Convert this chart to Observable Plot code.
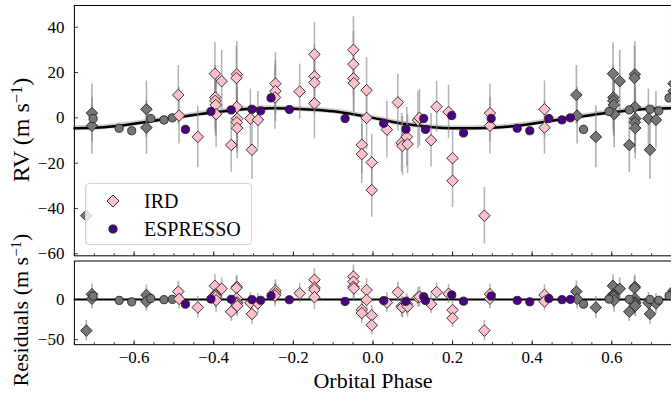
<!DOCTYPE html>
<html><head><meta charset="utf-8">
<script src="https://cdn.jsdelivr.net/npm/d3@7"></script>
<script src="https://cdn.jsdelivr.net/npm/@observablehq/plot@0.6"></script>
<style>
body{margin:0;background:#fff;}
#wrap{position:relative;width:671px;height:394px;overflow:hidden;background:#fff;font-family:"Liberation Serif",serif;color:#000;}
#top,#bot{position:absolute;left:0;}
#top{top:0px;} #bot{top:258px;}
.ylab{position:absolute;white-space:nowrap;transform:translate(-50%,-50%) rotate(-90deg);font-size:24px;line-height:1;}
.xlab{position:absolute;white-space:nowrap;transform:translate(-50%,-50%);font-size:22px;line-height:1;}
sup{font-size:0.68em;vertical-align:0.45em;line-height:0;}
#legend{position:absolute;left:85px;top:183px;width:167px;height:62px;box-sizing:border-box;border:1px solid #d4d4d4;border-radius:4px;background:rgba(255,255,255,0.8);}
.lrow{position:absolute;left:0;height:20px;display:flex;align-items:center;font-size:20px;}
.lrow svg{margin-left:20px;margin-right:24px;}
</style></head><body>
<div id="wrap">
  <div id="top"></div>
  <div id="bot"></div>
  <div class="ylab" style="left:21px;top:130px;">RV (m s<sup>−1</sup>)</div>
  <div class="ylab" style="left:21px;top:310px;font-size:22px;">Residuals (m s<sup>−1</sup>)</div>
  <div class="xlab" style="left:373px;top:381px;">Orbital Phase</div>
  <div id="legend"></div>
</div>
<script>
// ---- data ----
const irdPhase = [-0.489,-0.487,-0.440,-0.397,-0.380,-0.396,-0.396,-0.395,-0.394,-0.342,-0.343,-0.342,-0.341,-0.342,-0.341,-0.356,-0.304,-0.308,-0.289,-0.245,-0.245,-0.246,-0.184,-0.147,-0.147,-0.147,-0.147,-0.049,-0.049,-0.049,-0.048,-0.016,-0.016,-0.028,-0.028,-0.003,-0.003,0.035,0.0625,0.072,0.074,0.085,0.087,0.113,0.117,0.146,0.160,0.190,0.200,0.200,0.280,0.294,0.294,0.431,0.431];
const irdRV    = [10.1,1.0,-8.4,19.5,16.2,9.0,7.5,5.7,1.6,19.2,17.6,4.8,-0.3,-2.0,-4.5,-12.0,-14.1,-0.3,-0.9,15.1,11.8,9.0,11.6,28.0,18.3,15.6,6.4,30.0,23.7,17.4,15.3,12.2,0.0,-11.9,-16.0,-19.7,-31.9,-5.2,6.8,-11.0,-12.4,-8.4,-11.6,-1.0,0.0,-9.9,4.9,2.6,-17.8,-27.8,-43.2,2.1,-3.5,3.8,-4.3];
const irdErr   = [13,12.5,13.6,13.7,13.5,14,14,14,14.8,14.4,14,13.5,13.5,13.5,13.5,12,13,13,12.5,13.7,13.5,14,12.1,14,14,14,15.7,14.6,14.5,14.5,14.7,14.4,14,13,13,12.5,12,12.5,12.5,13,13,13,13,12.5,12.5,11.8,11.2,11.8,12,11.8,12.5,12.8,12.5,12.5,11.8];

const espPhase = [-0.471,-0.407,-0.356,-0.304,-0.282,-0.256,-0.210,-0.070,0.027,0.083,0.1275,0.132,0.198,0.2275,0.297,0.3625,0.394,0.442,0.475,0.496];
const espRV    = [-5.1,2.8,3.5,3.8,3.1,8.8,3.7,-0.3,-2.4,-5.0,-0.3,-5.1,1.0,-6.7,-0.3,-4.6,-5.7,-0.3,-0.9,0.0];
const espErr   = [2,2,1.5,1.5,1.5,2,1.5,1.5,1.5,1.5,2,1.5,2,1.5,2,1.5,1.5,1.5,1.5,1.5];

const modelPhase = [-0.75,-0.7,-0.65,-0.6,-0.55,-0.5,-0.45,-0.4,-0.35,-0.3,-0.25,-0.2,-0.15,-0.1,-0.05,0,0.05,0.1,0.15,0.2,0.25,0.3,0.35,0.4,0.45,0.5,0.55,0.6,0.65,0.7,0.75];
const modelRV    = [-4.6,-4.4,-3.7,-2.6,-1.3,0.0,1.3,2.5,3.4,4.0,4.2,4.0,3.6,2.9,1.6,0.0,-1.8,-3.2,-4.1,-4.6,-4.6,-4.4,-3.7,-2.6,-1.3,0.0,1.3,2.5,3.4,4.0,4.2];
const modelBand  = 1.1;

const instruments = ["IRD","ESPRESSO"];
const xTickLabels = [-0.6,-0.4,-0.2,0,0.2,0.4,0.6];
const rvTicks = [-60,-40,-20,0,20,40];
const resTicks = [-50,0];

// ---- derived tables ----
const modelAt = d3.scaleLinear(modelPhase, modelRV);
const model = modelPhase.map((p,i)=>({phase:p, rv:modelRV[i]}));
const ird = irdPhase.map((p,i)=>({phase:p, rv:irdRV[i], err:irdErr[i]}));
const esp = espPhase.map((p,i)=>({phase:p, rv:espRV[i], err:espErr[i]}));
for (const d of [...ird, ...esp]) d.res = d.rv - modelAt(d.phase);
const wrap = arr => arr.flatMap(d => [{...d, phase:d.phase+1}, {...d, phase:d.phase-1}])
  .filter(d => d.phase >= -0.77 && d.phase <= 0.77);
const irdCopy = wrap(ird), espCopy = wrap(esp);
const xMinor = d3.ticks(-0.75, 0.75, 30);

const W = 672, ML = 74;
const FONT = "Liberation Serif, serif";
const errColor = "#858585";
const RD = 5.2, RC = 4.1;

function panel({yKey, yDomain, height, mt, mb, yTicks, showX, withModel}) {
  const plotH = height - mt - mb, plotW = W - ML;
  const lo = d => d[yKey] - d.err, hi = d => d[yKey] + d.err;
  const marks = [];
  if (withModel) {
    marks.push(Plot.areaY(model, {x:"phase", y1:d=>d.rv-modelBand, y2:d=>d.rv+modelBand, fill:"#a0a0a0", fillOpacity:0.5, curve:"natural"}));
    marks.push(Plot.line(model, {x:"phase", y:"rv", stroke:"black", strokeWidth:2.5, curve:"natural"}));
  } else {
    marks.push(Plot.ruleY([0], {stroke:"black", strokeWidth:2}));
  }
  // gray wrapped copies
  marks.push(Plot.ruleX(irdCopy, {x:"phase", y1:lo, y2:hi, stroke:errColor, strokeOpacity:0.65, strokeWidth:1.6, clip:true}));
  marks.push(Plot.ruleX(espCopy, {x:"phase", y1:lo, y2:hi, stroke:errColor, strokeOpacity:0.65, strokeWidth:1.6, clip:true}));
  marks.push(Plot.dot(irdCopy, {x:"phase", y:yKey, symbol:"diamond2", r:RD, fill:"#767676", stroke:"#222", strokeWidth:0.9, clip:true}));
  marks.push(Plot.dot(espCopy, {x:"phase", y:yKey, symbol:"circle", r:RC, fill:"#767676", stroke:"#222", strokeWidth:0.9, clip:true}));
  // IRD
  marks.push(Plot.ruleX(ird, {x:"phase", y1:lo, y2:hi, stroke:errColor, strokeOpacity:0.6, strokeWidth:1.6}));
  marks.push(Plot.dot(ird, {x:"phase", y:yKey, symbol:"diamond2", r:RD, fill:"pink", stroke:"#222", strokeWidth:0.9}));
  // ESPRESSO
  marks.push(Plot.ruleX(esp, {x:"phase", y1:lo, y2:hi, stroke:errColor, strokeOpacity:0.6, strokeWidth:1.6}));
  marks.push(Plot.dot(esp, {x:"phase", y:yKey, symbol:"circle", r:RC, fill:"#4b0082", stroke:"#222", strokeWidth:0.9}));
  // inward ticks
  marks.push(Plot.tickX(xMinor, {x:d=>d, insetTop:plotH-2, stroke:"black", strokeWidth:0.8}));
  marks.push(Plot.tickX(xTickLabels, {x:d=>d, insetTop:plotH-4, stroke:"black", strokeWidth:0.8}));
  marks.push(Plot.tickY(yTicks, {y:d=>d, insetRight:plotW-4, stroke:"black", strokeWidth:0.8}));
  marks.push(Plot.frame({stroke:"black", strokeWidth:1}));
  marks.push(Plot.axisY(yTicks, {tickSize:0, tickPadding:10, fontSize:17, label:null}));
  if (showX) marks.push(Plot.axisX(xTickLabels, {tickSize:0, tickPadding:6, fontSize:17, label:null, tickFormat:d3.format(".1f")}));
  return Plot.plot({
    width: W, height, marginLeft: ML, marginRight: 0, marginTop: mt, marginBottom: mb,
    x: {domain:[-0.75, 0.75], axis: showX ? undefined : null},
    y: {domain: yDomain},
    style: {fontFamily: FONT, fontSize:"17px", color:"black", background:"transparent", overflow:"visible"},
    marks
  });
}

document.getElementById("top").append(panel({yKey:"rv", yDomain:[-60.9, 49.6], height:258, mt:5, mb:2.3, yTicks:rvTicks, showX:false, withModel:true}));
document.getElementById("bot").append(panel({yKey:"res", yDomain:[-56.2, 47.8], height:136, mt:2.5, mb:49.7, yTicks:resTicks, showX:true, withModel:false}));

// legend
const leg = document.getElementById("legend");
const legStyles = [
  {sym:'<polygon points="7,1 13,7 7,13 1,7" fill="pink" stroke="#222" stroke-width="0.9"/>'},
  {sym:'<circle cx="7" cy="7" r="4.1" fill="#4b0082" stroke="#222" stroke-width="0.9"/>'}
];
instruments.forEach((name, i) => {
  const row = document.createElement("div");
  row.className = "lrow";
  row.style.top = (7 + i*28) + "px";
  row.innerHTML = `<svg width="14" height="14">${legStyles[i].sym}</svg><span>${name}</span>`;
  leg.append(row);
});
</script>
</body></html>
